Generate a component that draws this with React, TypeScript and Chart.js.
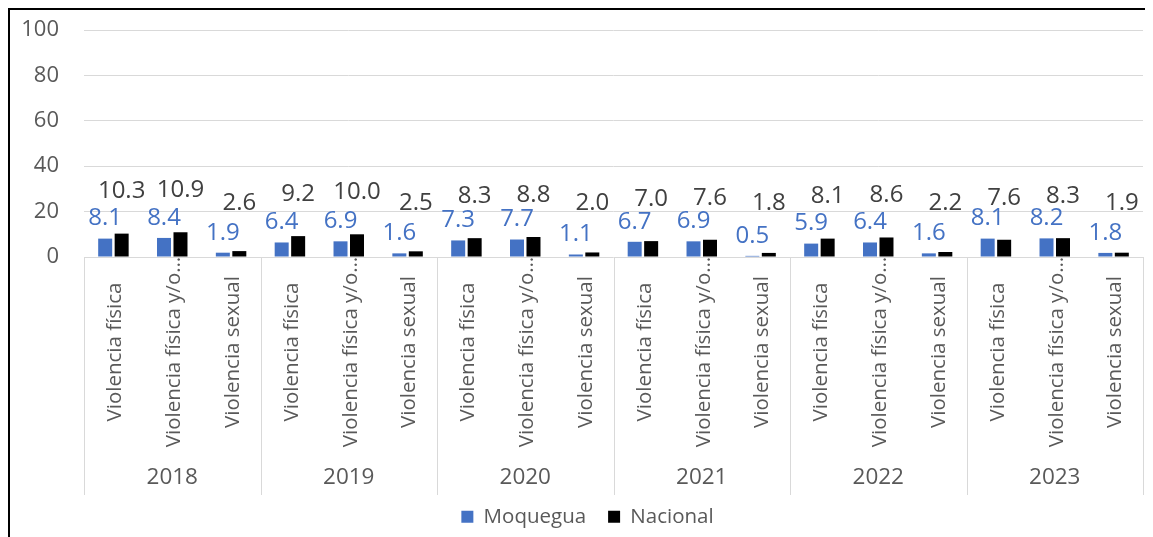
import React, { useEffect, useRef } from "react";
import { Chart, registerables } from "chart.js";

Chart.register(...registerables);

const years = ["2018", "2019", "2020", "2021", "2022", "2023"];
const categories = ["Violencia física", "Violencia física y/o…", "Violencia sexual"];
const moquegua = [8.1, 8.4, 1.9, 6.4, 6.9, 1.6, 7.3, 7.7, 1.1, 6.7, 6.9, 0.5, 5.9, 6.4, 1.6, 8.1, 8.2, 1.8];
const nacional = [10.3, 10.9, 2.6, 9.2, 10.0, 2.5, 8.3, 8.8, 2.0, 7.0, 7.6, 1.8, 8.1, 8.6, 2.2, 7.6, 8.3, 1.9];
const yTicks = [0, 20, 40, 60, 80, 100];

const FONT = '"Open Sans", "Liberation Sans", sans-serif';
const GREY = "#595959";
const BLUE = "#4472C4";

const overlayPlugin = {
  id: "overlay",
  afterLayout(chart: any) {
    if (chart.legend) chart.legend.left += 22;
  },
  afterDatasetsDraw(chart: any) {
    const ctx = chart.ctx;
    const area = chart.chartArea;
    ctx.save();
    ctx.font = `24px ${FONT}`;
    ctx.textAlign = "center";
    ctx.textBaseline = "middle";
    chart.data.datasets.forEach((ds: any, di: number) => {
      const meta = chart.getDatasetMeta(di);
      meta.data.forEach((bar: any, i: number) => {
        const v = ds.data[i] as number;
        ctx.fillStyle = di === 0 ? BLUE : "#404040";
        const y = di === 0 ? bar.y - 20 : Math.min(bar.y - 42, area.bottom - 54);
        ctx.fillText(v.toFixed(1), bar.x, y);
      });
    });
    ctx.restore();
  },
  afterDraw(chart: any) {
    const ctx = chart.ctx;
    const xs = chart.scales.x;
    const area = chart.chartArea;
    ctx.save();
    // rotated category labels, centred in the band under the axis
    ctx.fillStyle = GREY;
    ctx.font = `20.5px ${FONT}`;
    ctx.textAlign = "center";
    ctx.textBaseline = "middle";
    const labels = chart.data.labels as string[];
    labels.forEach((lab, i) => {
      const px = xs.getPixelForTick(i);
      ctx.save();
      ctx.translate(px + 2, area.bottom + 95);
      ctx.rotate(-Math.PI / 2);
      ctx.fillText(lab, 0, 0);
      ctx.restore();
    });
    // group separators
    ctx.strokeStyle = "#D9D9D9";
    ctx.lineWidth = 1;
    const n = categories.length;
    const bounds: number[] = [];
    for (let g = 0; g <= years.length; g++) {
      let px: number;
      if (g === 0) px = area.left;
      else if (g === years.length) px = area.right;
      else px = (xs.getPixelForTick(g * n - 1) + xs.getPixelForTick(g * n)) / 2;
      bounds.push(px);
      const rx = Math.round(px) + 0.5;
      ctx.beginPath();
      ctx.moveTo(rx, area.bottom);
      ctx.lineTo(rx, area.bottom + 238);
      ctx.stroke();
    }
    ctx.fillStyle = GREY;
    ctx.font = `22.5px ${FONT}`;
    years.forEach((y, g) => {
      ctx.fillText(y, (bounds[g] + bounds[g + 1]) / 2, area.bottom + 221);
    });
    ctx.restore();
  },
};

export default function App() {
  const ref = useRef<HTMLCanvasElement>(null);
  useEffect(() => {
    if (!ref.current) return;
    const labels = years.flatMap(() => categories);
    const chart = new Chart(ref.current, {
      type: "bar",
      data: {
        labels,
        datasets: [
          { label: "Moquegua", data: moquegua, backgroundColor: BLUE, categoryPercentage: 0.56, barPercentage: 0.85 },
          { label: "Nacional", data: nacional, backgroundColor: "#000000", categoryPercentage: 0.56, barPercentage: 0.85 },
        ],
      },
      options: {
        animation: false,
        responsive: true,
        maintainAspectRatio: false,
        layout: { padding: { top: 20, right: 10, left: 0, bottom: 0 } },
        plugins: {
          tooltip: { enabled: false },
          legend: {
            position: "bottom",
            labels: {
              color: GREY,
              font: { family: FONT, size: 20.5 },
              boxWidth: 12,
              boxHeight: 12,
              padding: 22,
            },
          },
        },
        scales: {
          x: {
            offset: true,
            grid: { display: false },
            border: { display: false },
            ticks: { display: false },
            afterFit: (s: any) => {
              s.height = 227.5;
            },
          },
          y: {
            min: 0,
            max: 100,
            afterBuildTicks: (s: any) => {
              s.ticks = yTicks.map((v) => ({ value: v }));
            },
            grid: { color: "#D9D9D9", drawTicks: true, tickLength: 25, tickColor: "rgba(0,0,0,0)", lineWidth: 1 },
            border: { display: false },
            ticks: {
              color: GREY,
              font: { family: FONT, size: 22 },
              padding: 0,
            },
            afterFit: (s: any) => {
              s.width = 74;
            },
          },
        },
      },
      plugins: [overlayPlugin],
    });
    return () => chart.destroy();
  }, []);

  return (
    <div
      style={{
        borderTop: "2px solid #000",
        borderLeft: "2px solid #000",
        width: 1143,
        height: 527,
        position: "relative",
        background: "#fff",
      }}
    >
      <canvas ref={ref} style={{ display: "block" }} />
    </div>
  );
}
